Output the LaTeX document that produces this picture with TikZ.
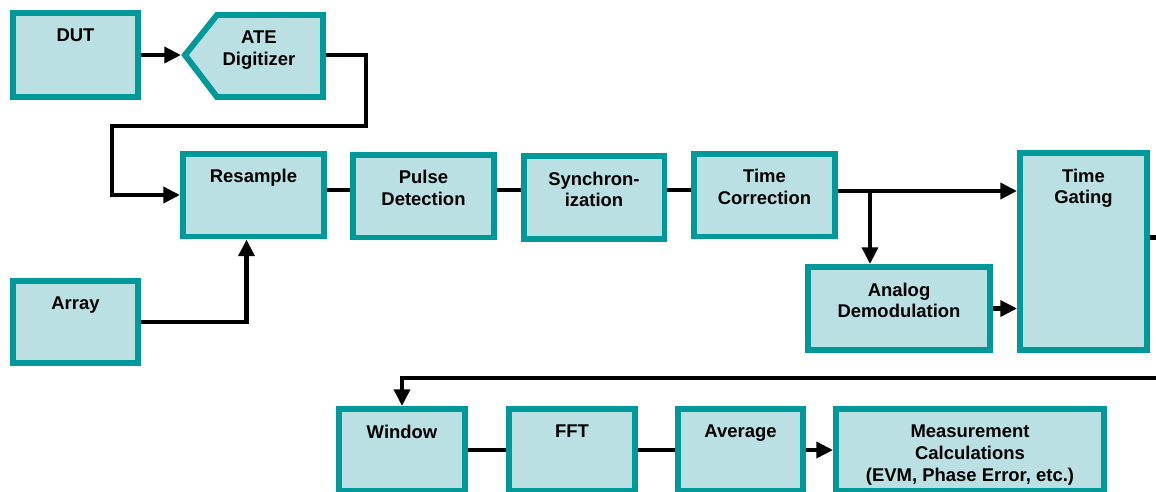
\documentclass[tikz,border=0pt]{standalone}
\usepackage{fontspec}
\setmainfont{Liberation Sans}
\usetikzlibrary{arrows.meta}
\definecolor{tealline}{RGB}{0,153,153}
\definecolor{boxfill}{RGB}{186,224,227}

\begin{document}
\begin{tikzpicture}[x=0.02cm,y=-0.02cm,
	blk/.style={draw=tealline, fill=boxfill, line width=3.4pt, inner sep=0pt},
	lbl/.style={font=\bfseries\fontsize{10.5}{12.5}\selectfont, align=center, inner sep=0pt, anchor=north, yshift=-10.4pt},
	wire/.style={line width=2.3pt},
	flow/.style={wire, -{Triangle[length=9.5pt,width=9pt]}}]
	\useasboundingbox (0,0) rectangle (1156,491);
	\clip (0,0) rectangle (1156,491);

	% sources
	\node[blk, minimum width=2.5cm, minimum height=1.68cm, label={[lbl]north:DUT}] (dut) at (75.5,55) {};
	\draw[blk] (185,55) -- (217,15) -- (323,15) -- (323,97) -- (217,97) -- cycle;
	\node[lbl] (ate) at (259,12) {ATE\\Digitizer};
	\coordinate (atein) at (181,55);
	\coordinate (ateout) at (326,55);
	\node[blk, minimum width=2.5cm, minimum height=1.64cm, label={[lbl]north:Array}] (arr) at (75.5,322) {};

	% processing chain
	\node[blk, minimum width=2.82cm, minimum height=1.66cm, label={[lbl]north:Resample}] (res) at (253.5,195) {};
	\node[blk, minimum width=2.82cm, minimum height=1.66cm, label={[lbl]north:{Pulse\\Detection}}] (pul) at (423.5,196) {};
	\node[blk, minimum width=2.82cm, minimum height=1.66cm, label={[lbl]north:{Synchron-\\ization}}] (syn) at (594,197.5) {};
	\node[blk, minimum width=2.82cm, minimum height=1.66cm, label={[lbl]north:{Time\\Correction}}] (tc) at (764.5,195) {};
	\node[blk, minimum width=3.64cm, minimum height=1.66cm, label={[lbl]north:{Analog\\Demodulation}}] (ana) at (899,308.5) {};
	\node[blk, minimum width=2.54cm, minimum height=3.94cm, label={[lbl]north:{Time\\Gating}}] (tg) at (1083.5,251.5) {};

	% spectrum
	\node[blk, minimum width=2.52cm, minimum height=1.64cm, label={[lbl]north:Window}] (win) at (402,450) {};
	\node[blk, minimum width=2.52cm, minimum height=1.64cm, label={[lbl]north:FFT}] (fft) at (572,450) {};
	\node[blk, minimum width=2.5cm, minimum height=1.64cm, label={[lbl]north:Average}] (avg) at (740.5,450) {};
	\node[blk, minimum width=5.36cm, minimum height=1.64cm,
		label={[lbl]north:{Measurement\\Calculations\\(EVM, Phase Error, etc.)}}] (meas) at (970,450) {};

	% wiring
	\coordinate (up) at (366,126);
	\coordinate (down) at (112,126);
	\coordinate (split) at (870,191);
	\coordinate (back) at (1170,378);
	\draw[flow] (dut.east) -- (atein);
	\draw[flow] (ateout) -| (up) -- (down) |- (res.west);
	\draw[flow] (arr.east) -| ([xshift=-0.14cm]res.south);
	\draw[wire] ([yshift=0.1cm]res.east) -- ([yshift=0.1cm]res.east -| pul.west);
	\draw[wire] ([yshift=0.12cm]pul.east) -- ([yshift=0.12cm]pul.east -| syn.west);
	\draw[wire] ([yshift=0.15cm]syn.east) -- ([yshift=0.15cm]syn.east -| tc.west);
	\draw[wire] (tc.east |- split) -- (split);
	\draw[flow] (split) -- (split -| tg.west);
	\draw[flow] (split) -- (split |- ana.north);
	\draw[flow] (ana.east) -- (ana.east -| tg.west);
	\draw[wire] ([yshift=0.28cm]tg.east) -- ++(20,0);
	\draw[flow] (back) -| (win.north);
	\draw[wire] (win.east) -- (fft.west);
	\draw[wire] (fft.east) -- (avg.west);
	\draw[flow] (avg.east) -- (meas.west);
\end{tikzpicture}
\end{document}
